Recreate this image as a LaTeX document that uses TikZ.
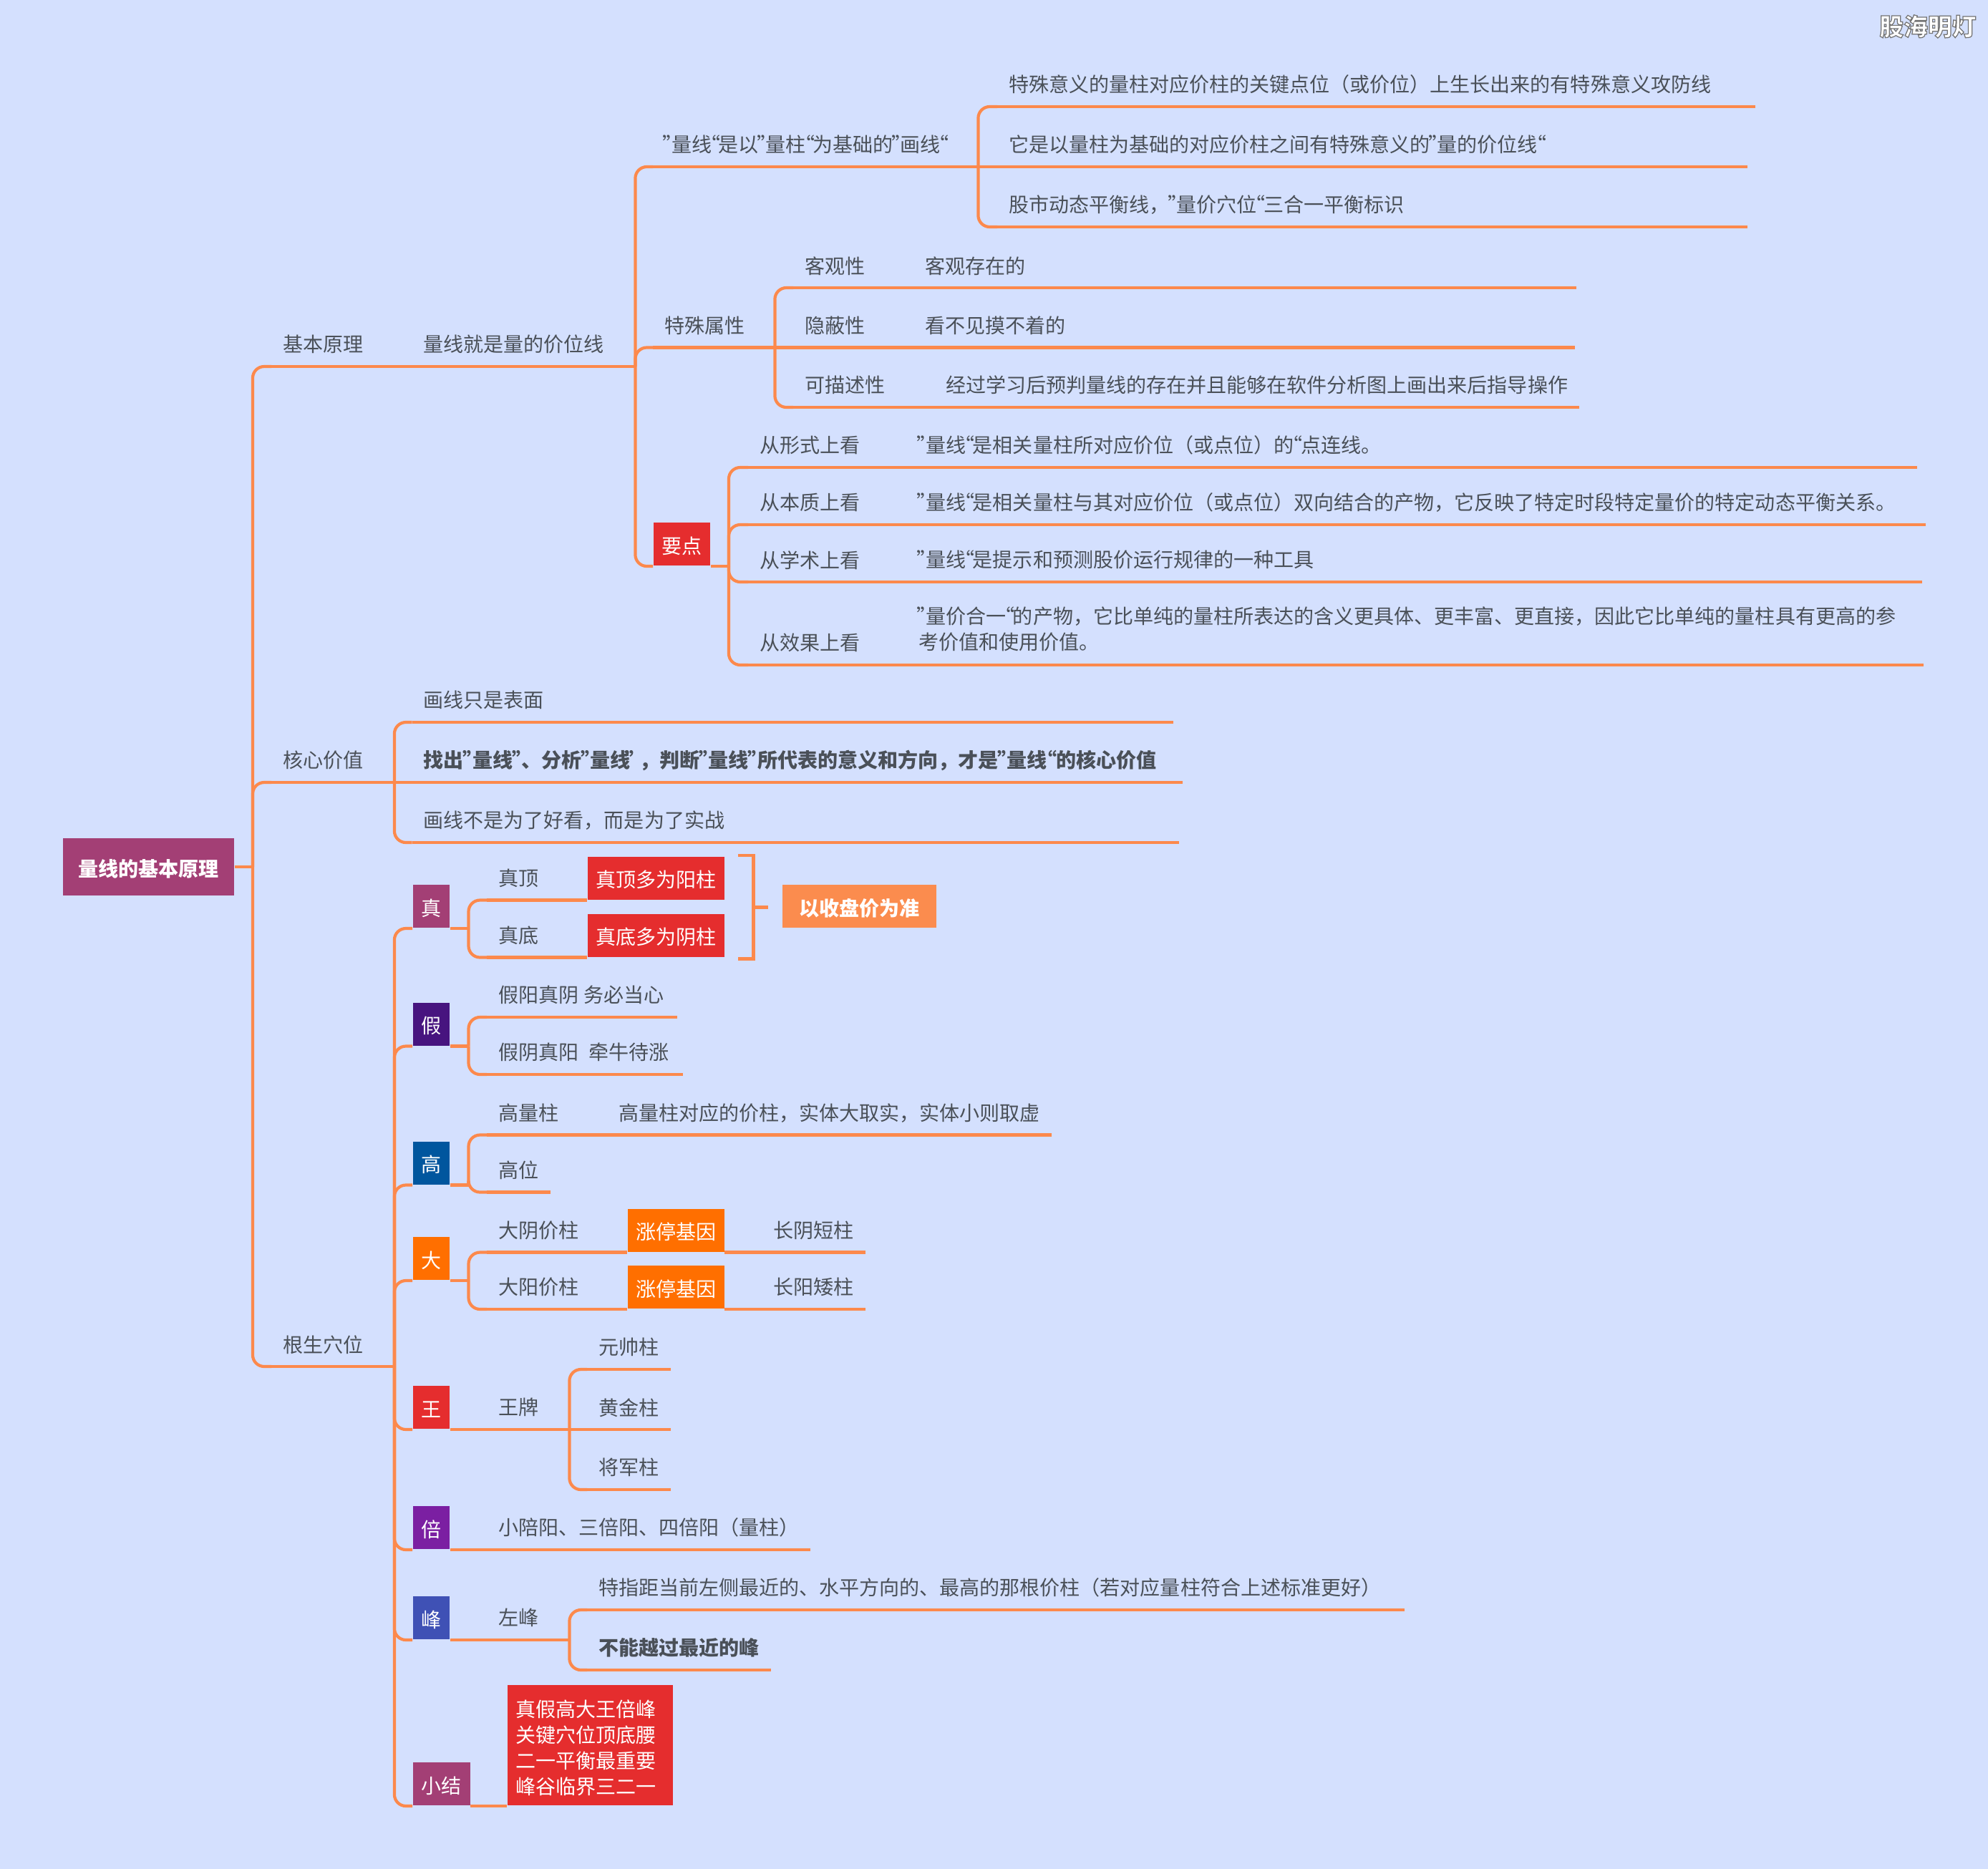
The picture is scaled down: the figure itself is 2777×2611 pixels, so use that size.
\documentclass[tikz,border=0pt]{standalone}
\usepackage{fontspec}
\setmainfont{Noto Sans CJK SC}
\newfontfamily\quotefont[RawFeature=+palt]{Noto Sans CJK SC}
\def\qw{.35em}
\catcode`”=\active \def”{\makebox[\qw][c]{\quotefont\char"201D}}
\catcode`“=\active \def“{\makebox[\qw][c]{\quotefont\char"201C}}
\definecolor{bgc}{HTML}{D4E0FE}
\definecolor{linec}{HTML}{FC894C}
\definecolor{textc}{HTML}{4A5058}
\definecolor{redc}{HTML}{E52D2E}
\definecolor{rootc}{HTML}{A33F75}
\definecolor{purplec}{HTML}{47147F}
\definecolor{bluec}{HTML}{00569E}
\definecolor{orangec}{HTML}{FF6F00}
\definecolor{violetc}{HTML}{7B1FA2}
\definecolor{indigoc}{HTML}{3F51B5}
\definecolor{notec}{HTML}{FB8C4E}
\tikzset{
  link/.style={draw=linec,line width=.042cm,rounded corners=.16cm},
  topic/.style={anchor=south west,inner xsep=.155cm,inner ysep=0pt,minimum height=.6cm,
    text=textc,text width={(#1-31)*.01cm},
    append after command={(\tikzlastnode.south west) edge[link] (\tikzlastnode.south east)}},
  tag/.style={anchor=south west,inner sep=0pt,minimum height=.6cm,
    text height=.27cm,text depth=.01cm,minimum width={#1*.01cm},text=white}
}
\begin{document}
\begin{tikzpicture}[x=.01cm,y=-.01cm]
\fontsize{7.97pt}{10.24pt}\selectfont
\fill[bgc] (0,0) rectangle (2777,2611);
\node[text=white,font=\fontsize{9.6pt}{10pt}\selectfont\bfseries] (mark) at (2693,37) {\special{pdf:code 2 Tr 0.45 G 0.35 w}股海明灯\special{pdf:code 0 Tr}};
% root
\node[tag=239,fill=rootc,minimum height=.8cm,anchor=center,font=\bfseries] (root) at (207.5,1211) {量线的基本原理};
\coordinate (t1) at (353,1211);
\path[link] (root.east) -- (t1);
% first branch
\node[topic=144] (base) at (379,512) {基本原理};
\node[topic=310.5] (line) at (575.5,512) {量线就是量的价位线};
\node[topic=453] (a1) at (912,233) {”量线“是以”量柱“为基础的”画线“};
\node[topic=1058] (a11) at (1393,149) {特殊意义的量柱对应价柱的关键点位（或价位）上生长出来的有特殊意义攻防线};
\node[topic=1047] (a12) at (1393,233) {它是以量柱为基础的对应价柱之间有特殊意义的”量的价位线“};
\node[topic=1047] (a13) at (1393,317) {股市动态平衡线，”量价穴位“三合一平衡标识};
\node[topic=169] (a2) at (912,485.5) {特殊属性};
\node[topic=116] (a21) at (1108,402) {客观性};
\node[topic=925] (a21b) at (1276,402) {客观存在的};
\node[topic=116] (a22) at (1108,485.5) {隐蔽性};
\node[topic=923] (a22b) at (1276,485.5) {看不见摸不着的};
\node[topic=144] (a23) at (1108,569) {可描述性};
\node[topic=900] (a23b) at (1305,569) {经过学习后预判量线的存在并且能够在软件分析图上画出来后指导操作};
\node[tag=79.5,fill=redc] (a3) at (912,791) {要点};
\coordinate (a3j) at (1018,791);
\node[topic=172] (a31) at (1045,653) {从形式上看};
\node[topic=1410] (a31b) at (1267,653) {”量线“是相关量柱所对应价位（或点位）的“点连线。};
\node[topic=172] (a32) at (1045,733) {从本质上看};
\node[topic=1422] (a32b) at (1267,733) {”量线“是相关量柱与其对应价位（或点位）双向结合的产物，它反映了特定时段特定量价的特定动态平衡关系。};
\node[topic=172] (a33) at (1045,813) {从学术上看};
\node[topic=1417] (a33b) at (1267,813) {”量线“是提示和预测股价运行规律的一种工具};
\node[topic=172] (a34) at (1045,929) {从效果上看};
\node[topic=1419,minimum height=.98cm] (a34b) at (1267,929) {”量价合一“的产物，它比单纯的量柱所表达的含义更具体、更丰富、更直接，因此它比单纯的量柱具有更高的参\\考价值和使用价值。};
\path[link] (t1) |- (base.south west);
\path[link] (base.south east) -- (line.south west);
\path[link] (line.south east) |- (a1.south west);
\path[link] (line.south east) |- (a2.south west);
\path[link] (line.south east) |- (a3.south west);
\path[link] (a1.south east) |- (a11.south west);
\path[link] (a1.south east) -- (a12.south west);
\path[link] (a1.south east) |- (a13.south west);
\path[link] (a2.south east) |- (a21.south west);
\path[link] (a2.south east) -- (a22.south west);
\path[link] (a2.south east) |- (a23.south west);
\path[link] (a21.south east) -- (a21b.south west);
\path[link] (a22.south east) -- (a22b.south west);
\path[link] (a23.south east) -- (a23b.south west);
\path[link] (a3.south east) -- (a3j);
\path[link] (a3j) |- (a31.south west);
\path[link] (a3j) |- (a32.south west);
\path[link] (a3j) |- (a33.south west);
\path[link] (a3j) |- (a34.south west);
\path[link] (a31.south east) -- (a31b.south west);
\path[link] (a32.south east) -- (a32b.south west);
\path[link] (a33.south east) -- (a33b.south west);
\path[link] (a34.south east) -- (a34b.south west);
% second branch
\node[topic=170.5] (core) at (379,1093) {核心价值};
\node[topic=1062.5] (b1) at (575.5,1009) {画线只是表面};
\node[topic=1075,font=\bfseries] (b2) at (575.5,1093) {\def\qw{.44em}找出”量线”、分析”量线\makebox[\qw][c]{"}，判断”量线”所代表的意义和方向，才是”量线“的核心价值};
\node[topic=1070.5] (b3) at (575.5,1177) {画线不是为了好看，而是为了实战};
\path[link] (t1) |- (core.south west);
\path[link] (core.south east) |- (b1.south west);
\path[link] (core.south east) -- (b2.south west);
\path[link] (core.south east) |- (b3.south west);
% third branch
\node[topic=170.5] (gen) at (379,1909) {根生穴位};
\path[link] (t1) |- (gen.south west);
\node[tag=51.5,fill=rootc] (zhen) at (576,1297) {真};
\coordinate (zhenj) at (654.5,1297);
\node[topic=88] (zhen1) at (680,1257.5) {真顶};
\node[tag=191,fill=redc] (zhen1b) at (820,1257.5) {真顶多为阳柱};
\node[topic=88] (zhen2) at (680,1337.5) {真底};
\node[tag=191,fill=redc] (zhen2b) at (820,1337.5) {真底多为阴柱};
\node[tag=215.5,fill=notec,font=\bfseries] (note) at (1092,1297) {以收盘价为准};
\coordinate (brt) at (1031,1195);
\coordinate (brb) at (1031,1339.5);
\coordinate (brm) at (1052.5,1267.5);
\coordinate (bre) at (1073,1267.5);
\path[draw=linec,line width=.042cm] (brt) -- (brm |- brt) -- (brm |- brb) -- (brb);
\path[draw=linec,line width=.042cm] (brm) -- (bre);
\node[tag=51.5,fill=purplec] (jia) at (576,1461.5) {假};
\coordinate (jiaj) at (654.5,1461.5);
\node[topic=265] (jia1) at (680,1421) {\spaceskip=.07cm \mbox{假阳真阴 务必当心}};
\node[topic=272.5] (jia2) at (680,1501) {\spaceskip=.14cm \mbox{假阴真阳 牵牛待涨}};
\node[tag=51.5,fill=bluec] (gao) at (576,1655.5) {高};
\coordinate (gaoj) at (654.5,1655.5);
\node[topic=116] (gao1) at (680,1585.5) {高量柱};
\node[topic=620] (gao1b) at (848,1585.5) {高量柱对应的价柱，实体大取实，实体小则取虚};
\node[topic=88] (gao2) at (680,1665.5) {高位};
\node[tag=51.5,fill=orangec] (da) at (576,1789) {大};
\coordinate (daj) at (654.5,1789);
\node[topic=144] (da1) at (680,1749.5) {大阴价柱};
\node[tag=135,fill=orangec] (da1b) at (876,1749.5) {涨停基因};
\node[topic=144] (da1c) at (1064,1749.5) {长阴短柱};
\node[topic=144] (da2) at (680,1829) {大阳价柱};
\node[tag=135,fill=orangec] (da2b) at (876,1829) {涨停基因};
\node[topic=144] (da2c) at (1064,1829) {长阳矮柱};
\node[tag=51.5,fill=redc] (wang) at (576,1997) {王};
\node[topic=114] (wang1) at (680,1997) {王牌};
\node[topic=116] (w1) at (820,1913) {元帅柱};
\node[topic=116] (w2) at (820,1997) {黄金柱};
\node[topic=116] (w3) at (820,2081) {将军柱};
\node[tag=51.5,fill=violetc] (bei) at (576,2165) {倍};
\node[topic=451] (bei1) at (680,2165) {小陪阳、三倍阳、四倍阳（量柱）};
\node[tag=51.5,fill=indigoc] (feng) at (576,2291) {峰};
\node[topic=114] (feng1) at (680,2291) {左峰};
\node[topic=1141] (f1) at (820,2249) {特指距当前左侧最近的、水平方向的、最高的那根价柱（若对应量柱符合上述标准更好）};
\node[topic=256,font=\bfseries] (f2) at (820,2333) {不能越过最近的峰};
\node[tag=80,fill=rootc] (sum) at (576,2523) {小结};
\node[anchor=south west,fill=redc,text=white,inner xsep=.12cm,inner ysep=0pt,minimum height=1.68cm,text width=2.07cm] (sum1) at (708,2523) {\rule{0pt}{.3cm}真假高大王倍峰\\关键穴位顶底腰\\二一平衡最重要\\峰谷临界三二一};
\path[link] (gen.south east) |- (zhen.south west);
\path[link] (gen.south east) |- (jia.south west);
\path[link] (gen.south east) |- (gao.south west);
\path[link] (gen.south east) |- (da.south west);
\path[link] (gen.south east) |- (wang.south west);
\path[link] (gen.south east) |- (bei.south west);
\path[link] (gen.south east) |- (feng.south west);
\path[link] (gen.south east) |- (sum.south west);
\path[link] (zhen.south east) -- (zhenj);
\path[link] (zhenj) |- (zhen1.south west);
\path[link] (zhenj) |- (zhen2.south west);
\path[link] (zhen1.south east) -- (zhen1b.south west);
\path[link] (zhen2.south east) -- (zhen2b.south west);
\path[link] (jia.south east) -- (jiaj);
\path[link] (jiaj) |- (jia1.south west);
\path[link] (jiaj) |- (jia2.south west);
\path[link] (gao.south east) -- (gaoj);
\path[link] (gaoj) |- (gao1.south west);
\path[link] (gaoj) |- (gao2.south west);
\path[link] (gao1.south east) -- (gao1b.south west);
\path[link] (da.south east) -- (daj);
\path[link] (daj) |- (da1.south west);
\path[link] (daj) |- (da2.south west);
\path[link] (da1.south east) -- (da1b.south west);
\path[link] (da2.south east) -- (da2b.south west);
\path[link] (da1b.south east) -- (da1c.south west);
\path[link] (da2b.south east) -- (da2c.south west);
\path[link] (wang.south east) -- (wang1.south west);
\path[link] (wang1.south east) |- (w1.south west);
\path[link] (wang1.south east) -- (w2.south west);
\path[link] (wang1.south east) |- (w3.south west);
\path[link] (bei.south east) -- (bei1.south west);
\path[link] (feng.south east) -- (feng1.south west);
\path[link] (feng1.south east) |- (f1.south west);
\path[link] (feng1.south east) |- (f2.south west);
\path[link] (sum.south east) -- (sum1.south west);
\end{tikzpicture}
\end{document}
